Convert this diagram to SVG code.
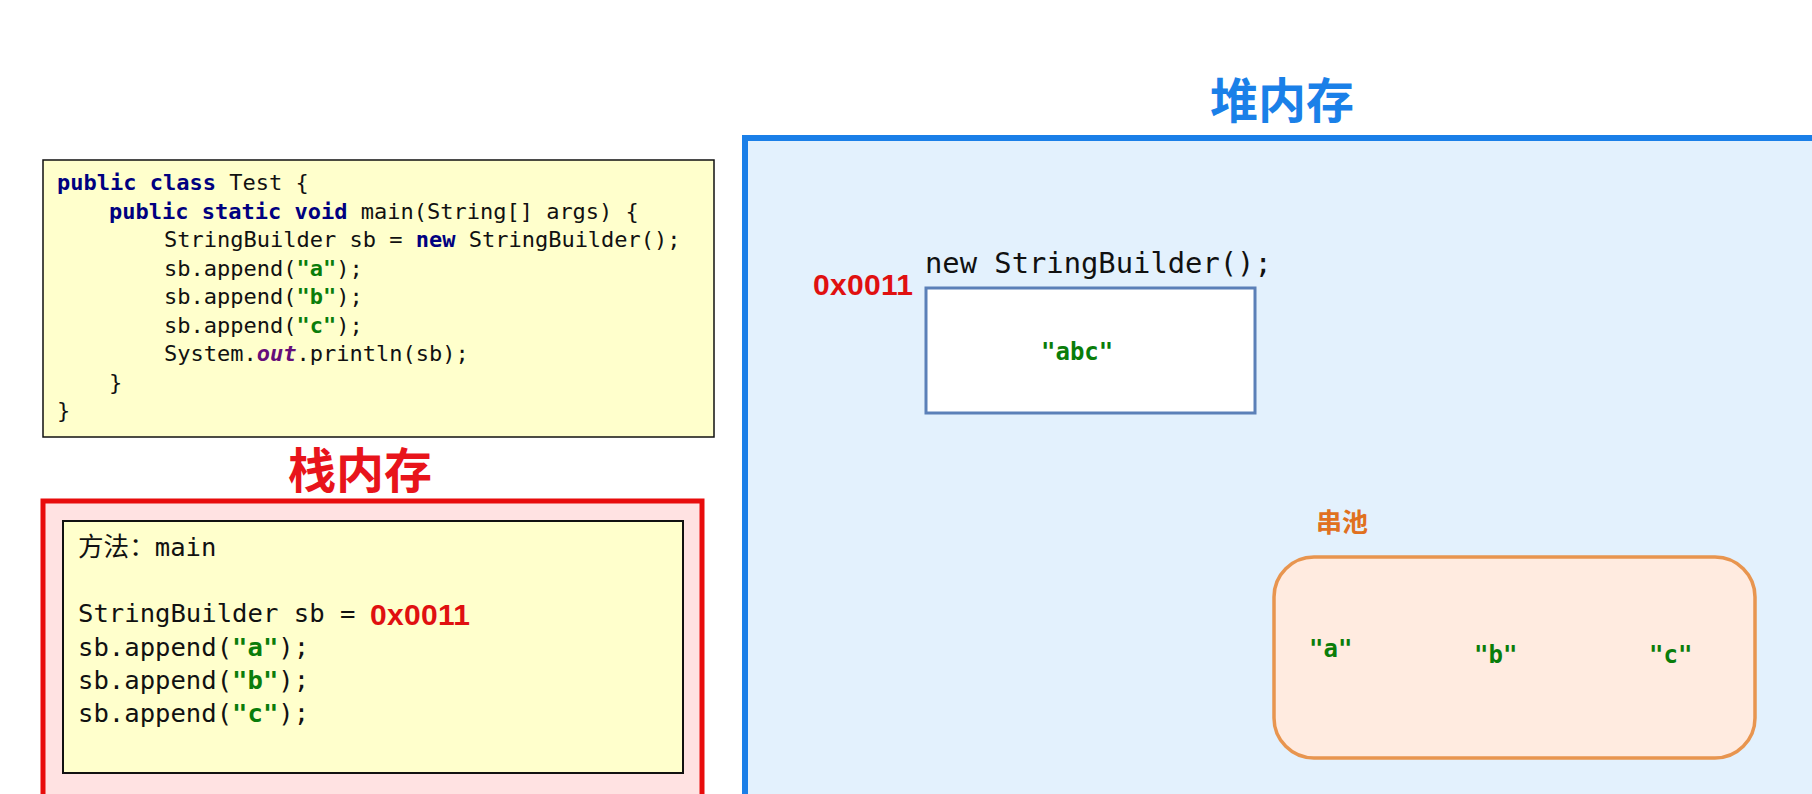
<svg xmlns="http://www.w3.org/2000/svg" width="1812" height="794" viewBox="0 0 1812 794">
<style>
.code{font-family:"DejaVu Sans Mono","Liberation Mono","Noto Sans CJK SC",monospace;fill:#111;}
.kw{font-weight:bold;fill:#000080;}
.str{font-weight:bold;fill:#0a7d0a;}
.out{font-weight:bold;font-style:italic;fill:#660e7a;}
.addr{font-family:"Liberation Sans","Noto Sans",sans-serif;font-weight:bold;fill:#e01010;}
.title{font-family:"Noto Sans CJK SC","Noto Sans",sans-serif;font-weight:bold;text-anchor:middle;}
.yellow{fill:#ffffcc;stroke:#111;}
.poolstr{font-family:"DejaVu Sans Mono","Liberation Mono",monospace;font-weight:bold;fill:#0a7d0a;font-size:24px;}
</style>
<rect x="0" y="0" width="1812" height="794" fill="#ffffff"/>

<g id="heap">
<rect x="745" y="138" width="1120" height="700" fill="#e3f1fd" stroke="#1a7fe8" stroke-width="6"/>
<text class="title" x="1282" y="118" font-size="48" fill="#1a80e8">堆内存</text>
</g>

<g id="code-box">
<rect class="yellow" x="43" y="160" width="671" height="277" stroke-width="1.5"/>
<text class="code" font-size="22">
<tspan x="57" y="190"><tspan class="kw">public</tspan> <tspan class="kw">class</tspan> Test {</tspan>
<tspan x="109" y="218.5"><tspan class="kw">public</tspan> <tspan class="kw">static</tspan> <tspan class="kw">void</tspan> main(String[] args) {</tspan>
<tspan x="164" y="247">StringBuilder sb = <tspan class="kw">new</tspan> StringBuilder();</tspan>
<tspan x="164" y="275.5">sb.append(<tspan class="str">"a"</tspan>);</tspan>
<tspan x="164" y="304">sb.append(<tspan class="str">"b"</tspan>);</tspan>
<tspan x="164" y="332.5">sb.append(<tspan class="str">"c"</tspan>);</tspan>
<tspan x="164" y="361">System.<tspan class="out">out</tspan>.println(sb);</tspan>
<tspan x="109" y="389.5">}</tspan>
<tspan x="57" y="418">}</tspan>
</text>
</g>

<g id="stack">
<text class="title" x="360" y="488" font-size="48" fill="#e8141b">栈内存</text>
<rect x="43" y="501" width="659" height="330" fill="#ffe2e2" stroke="#e80c0c" stroke-width="5"/>
</g>

<g id="stack-frame">
<rect class="yellow" x="63" y="521" width="620" height="252" stroke-width="2"/>
<text class="code" font-size="25.6">
<tspan x="78" y="556">方法：main</tspan>
<tspan x="78" y="622">StringBuilder sb =</tspan>
<tspan x="78" y="656">sb.append(<tspan class="str">"a"</tspan>);</tspan>
<tspan x="78" y="689">sb.append(<tspan class="str">"b"</tspan>);</tspan>
<tspan x="78" y="722">sb.append(<tspan class="str">"c"</tspan>);</tspan>
</text>
<text class="addr" x="370" y="625" font-size="30" textLength="100">0x0011</text>
</g>

<g id="stringbuilder-object">
<text class="addr" x="813" y="295" font-size="30" textLength="100">0x0011</text>
<text class="code" x="925" y="273" font-size="28.8" fill="#222">new StringBuilder();</text>
<rect x="926" y="288" width="329" height="125" fill="#ffffff" stroke="#5b80b8" stroke-width="3"/>
<text class="poolstr" x="1041" y="360">"abc"</text>
</g>

<g id="string-pool">
<text class="title" x="1342" y="532" font-size="26" fill="#e07020">串池</text>
<rect x="1274" y="557" width="481" height="201" rx="40" ry="40" fill="#ffebe0" stroke="#e8954f" stroke-width="3.5"/>
<text class="poolstr" x="1309" y="657">"a"</text>
<text class="poolstr" x="1474" y="663">"b"</text>
<text class="poolstr" x="1649" y="663">"c"</text>
</g>

<g id="connectors"></g>
</svg>
